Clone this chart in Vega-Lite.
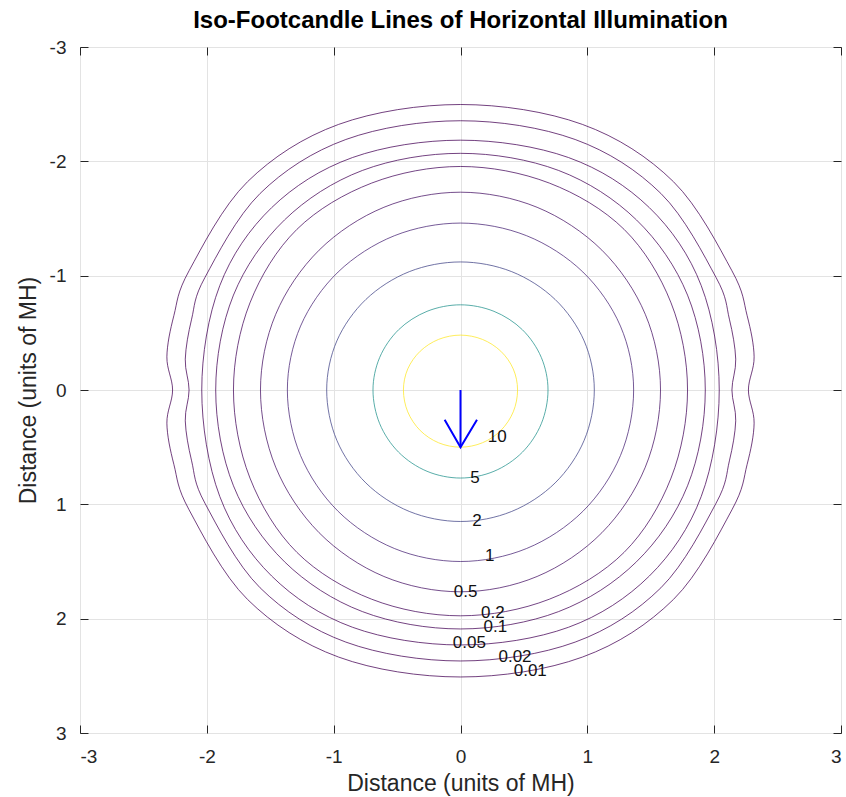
{
  "$schema": "https://vega.github.io/schema/vega-lite/v6.json",
  "width": 761,
  "height": 686,
  "autosize": "none",
  "padding": {"left": 80, "top": 47, "right": 5, "bottom": 64},
  "title": {
    "text": "Iso-Footcandle Lines of Horizontal Illumination",
    "font": "Liberation Sans",
    "fontSize": 24,
    "fontWeight": "bold",
    "color": "#000000",
    "anchor": "middle",
    "baseline": "bottom",
    "offset": -19
  },
  "config": {
    "view": {"stroke": "#262626", "strokeWidth": 1},
    "axis": {
      "labelFont": "Liberation Sans",
      "titleFont": "Liberation Sans",
      "labelFontSize": 19,
      "titleFontSize": 23,
      "titleFontWeight": "normal",
      "labelColor": "#262626",
      "titleColor": "#262626",
      "tickColor": "#262626",
      "domain": false,
      "gridColor": "#e3e3e3",
      "tickSize": -8,
      "labelExpr": "'' + datum.value"
    }
  },
  "datasets": {
    "contours": [
      {"level": "10", "i": 0, "x": 0.45, "y": 0},
      {"level": "10", "i": 1, "x": 0.416, "y": 0.191},
      {"level": "10", "i": 2, "x": 0.318, "y": 0.354},
      {"level": "10", "i": 3, "x": 0.172, "y": 0.462},
      {"level": "10", "i": 4, "x": 0, "y": 0.5},
      {"level": "10", "i": 5, "x": -0.172, "y": 0.462},
      {"level": "10", "i": 6, "x": -0.318, "y": 0.354},
      {"level": "10", "i": 7, "x": -0.416, "y": 0.191},
      {"level": "10", "i": 8, "x": -0.45, "y": 0},
      {"level": "10", "i": 9, "x": -0.416, "y": -0.184},
      {"level": "10", "i": 10, "x": -0.318, "y": -0.339},
      {"level": "10", "i": 11, "x": -0.172, "y": -0.443},
      {"level": "10", "i": 12, "x": 0, "y": -0.48},
      {"level": "10", "i": 13, "x": 0.172, "y": -0.443},
      {"level": "10", "i": 14, "x": 0.318, "y": -0.339},
      {"level": "10", "i": 15, "x": 0.416, "y": -0.184},

      {"level": "5", "i": 0, "x": 0.69, "y": 0},
      {"level": "5", "i": 1, "x": 0.637, "y": 0.295},
      {"level": "5", "i": 2, "x": 0.488, "y": 0.544},
      {"level": "5", "i": 3, "x": 0.264, "y": 0.711},
      {"level": "5", "i": 4, "x": 0, "y": 0.77},
      {"level": "5", "i": 5, "x": -0.264, "y": 0.711},
      {"level": "5", "i": 6, "x": -0.488, "y": 0.544},
      {"level": "5", "i": 7, "x": -0.637, "y": 0.295},
      {"level": "5", "i": 8, "x": -0.69, "y": 0},
      {"level": "5", "i": 9, "x": -0.637, "y": -0.285},
      {"level": "5", "i": 10, "x": -0.488, "y": -0.527},
      {"level": "5", "i": 11, "x": -0.264, "y": -0.688},
      {"level": "5", "i": 12, "x": 0, "y": -0.745},
      {"level": "5", "i": 13, "x": 0.264, "y": -0.688},
      {"level": "5", "i": 14, "x": 0.488, "y": -0.527},
      {"level": "5", "i": 15, "x": 0.637, "y": -0.285},

      {"level": "2", "i": 0, "x": 1.055, "y": 0},
      {"level": "2", "i": 1, "x": 0.975, "y": 0.44},
      {"level": "2", "i": 2, "x": 0.746, "y": 0.813},
      {"level": "2", "i": 3, "x": 0.404, "y": 1.062},
      {"level": "2", "i": 4, "x": 0, "y": 1.15},
      {"level": "2", "i": 5, "x": -0.404, "y": 1.062},
      {"level": "2", "i": 6, "x": -0.746, "y": 0.813},
      {"level": "2", "i": 7, "x": -0.975, "y": 0.44},
      {"level": "2", "i": 8, "x": -1.055, "y": 0},
      {"level": "2", "i": 9, "x": -0.975, "y": -0.429},
      {"level": "2", "i": 10, "x": -0.746, "y": -0.792},
      {"level": "2", "i": 11, "x": -0.404, "y": -1.035},
      {"level": "2", "i": 12, "x": 0, "y": -1.12},
      {"level": "2", "i": 13, "x": 0.404, "y": -1.035},
      {"level": "2", "i": 14, "x": 0.746, "y": -0.792},
      {"level": "2", "i": 15, "x": 0.975, "y": -0.429},

      {"level": "1", "i": 0, "x": 1.365, "y": 0},
      {"level": "1", "i": 1, "x": 1.261, "y": 0.574},
      {"level": "1", "i": 2, "x": 0.965, "y": 1.061},
      {"level": "1", "i": 3, "x": 0.522, "y": 1.386},
      {"level": "1", "i": 4, "x": 0, "y": 1.5},
      {"level": "1", "i": 5, "x": -0.522, "y": 1.386},
      {"level": "1", "i": 6, "x": -0.965, "y": 1.061},
      {"level": "1", "i": 7, "x": -1.261, "y": 0.574},
      {"level": "1", "i": 8, "x": -1.365, "y": 0},
      {"level": "1", "i": 9, "x": -1.261, "y": -0.559},
      {"level": "1", "i": 10, "x": -0.965, "y": -1.032},
      {"level": "1", "i": 11, "x": -0.522, "y": -1.349},
      {"level": "1", "i": 12, "x": 0, "y": -1.46},
      {"level": "1", "i": 13, "x": 0.522, "y": -1.349},
      {"level": "1", "i": 14, "x": 0.965, "y": -1.032},
      {"level": "1", "i": 15, "x": 1.261, "y": -0.559},

      {"level": "0.5", "i": 0, "x": 1.577, "y": 0},
      {"level": "0.5", "i": 1, "x": 1.457, "y": 0.675},
      {"level": "0.5", "i": 2, "x": 1.115, "y": 1.248},
      {"level": "0.5", "i": 3, "x": 0.604, "y": 1.631},
      {"level": "0.5", "i": 4, "x": 0, "y": 1.765},
      {"level": "0.5", "i": 5, "x": -0.604, "y": 1.631},
      {"level": "0.5", "i": 6, "x": -1.115, "y": 1.248},
      {"level": "0.5", "i": 7, "x": -1.457, "y": 0.675},
      {"level": "0.5", "i": 8, "x": -1.577, "y": 0},
      {"level": "0.5", "i": 9, "x": -1.457, "y": -0.662},
      {"level": "0.5", "i": 10, "x": -1.115, "y": -1.223},
      {"level": "0.5", "i": 11, "x": -0.604, "y": -1.598},
      {"level": "0.5", "i": 12, "x": 0, "y": -1.73},
      {"level": "0.5", "i": 13, "x": 0.604, "y": -1.598},
      {"level": "0.5", "i": 14, "x": 1.115, "y": -1.223},
      {"level": "0.5", "i": 15, "x": 1.457, "y": -0.662},

      {"level": "0.2", "i": 0, "x": 1.79, "y": 0},
      {"level": "0.2", "i": 1, "x": 1.66, "y": 0.77},
      {"level": "0.2", "i": 2, "x": 1.29, "y": 1.42},
      {"level": "0.2", "i": 3, "x": 0.7, "y": 1.83},
      {"level": "0.2", "i": 4, "x": 0, "y": 1.975},
      {"level": "0.2", "i": 5, "x": -0.7, "y": 1.83},
      {"level": "0.2", "i": 6, "x": -1.29, "y": 1.42},
      {"level": "0.2", "i": 7, "x": -1.66, "y": 0.77},
      {"level": "0.2", "i": 8, "x": -1.79, "y": 0},
      {"level": "0.2", "i": 9, "x": -1.66, "y": -0.762},
      {"level": "0.2", "i": 10, "x": -1.29, "y": -1.405},
      {"level": "0.2", "i": 11, "x": -0.7, "y": -1.81},
      {"level": "0.2", "i": 12, "x": 0, "y": -1.955},
      {"level": "0.2", "i": 13, "x": 0.7, "y": -1.81},
      {"level": "0.2", "i": 14, "x": 1.29, "y": -1.405},
      {"level": "0.2", "i": 15, "x": 1.66, "y": -0.762},

      {"level": "0.1", "i": 0, "x": 1.93, "y": 0},
      {"level": "0.1", "i": 1, "x": 1.79, "y": 0.838},
      {"level": "0.1", "i": 2, "x": 1.387, "y": 1.503},
      {"level": "0.1", "i": 3, "x": 0.774, "y": 1.938},
      {"level": "0.1", "i": 4, "x": 0, "y": 2.09},
      {"level": "0.1", "i": 5, "x": -0.774, "y": 1.938},
      {"level": "0.1", "i": 6, "x": -1.387, "y": 1.503},
      {"level": "0.1", "i": 7, "x": -1.79, "y": 0.838},
      {"level": "0.1", "i": 8, "x": -1.93, "y": 0},
      {"level": "0.1", "i": 9, "x": -1.79, "y": -0.83},
      {"level": "0.1", "i": 10, "x": -1.387, "y": -1.488},
      {"level": "0.1", "i": 11, "x": -0.774, "y": -1.92},
      {"level": "0.1", "i": 12, "x": 0, "y": -2.07},
      {"level": "0.1", "i": 13, "x": 0.774, "y": -1.92},
      {"level": "0.1", "i": 14, "x": 1.387, "y": -1.488},
      {"level": "0.1", "i": 15, "x": 1.79, "y": -0.83},

      {"level": "0.05", "i": 0, "x": 2.04, "y": 0},
      {"level": "0.05", "i": 1, "x": 1.898, "y": 0.931},
      {"level": "0.05", "i": 2, "x": 1.489, "y": 1.627},
      {"level": "0.05", "i": 3, "x": 0.852, "y": 2.075},
      {"level": "0.05", "i": 4, "x": 0, "y": 2.23},
      {"level": "0.05", "i": 5, "x": -0.852, "y": 2.075},
      {"level": "0.05", "i": 6, "x": -1.489, "y": 1.627},
      {"level": "0.05", "i": 7, "x": -1.898, "y": 0.931},
      {"level": "0.05", "i": 8, "x": -2.04, "y": 0},
      {"level": "0.05", "i": 9, "x": -1.898, "y": -0.913},
      {"level": "0.05", "i": 10, "x": -1.489, "y": -1.595},
      {"level": "0.05", "i": 11, "x": -0.852, "y": -2.033},
      {"level": "0.05", "i": 12, "x": 0, "y": -2.185},
      {"level": "0.05", "i": 13, "x": 0.852, "y": -2.033},
      {"level": "0.05", "i": 14, "x": 1.489, "y": -1.595},
      {"level": "0.05", "i": 15, "x": 1.898, "y": -0.913},

      {"level": "0.02", "i": 0, "x": 2.14, "y": 0},
      {"level": "0.02", "i": 0.3, "x": 2.17, "y": 0.27},
      {"level": "0.02", "i": 0.6, "x": 2.12, "y": 0.62},
      {"level": "0.02", "i": 1, "x": 2.015, "y": 0.99},
      {"level": "0.02", "i": 2, "x": 1.58, "y": 1.73},
      {"level": "0.02", "i": 3, "x": 0.904, "y": 2.205},
      {"level": "0.02", "i": 4, "x": 0, "y": 2.37},
      {"level": "0.02", "i": 5, "x": -0.904, "y": 2.205},
      {"level": "0.02", "i": 6, "x": -1.58, "y": 1.73},
      {"level": "0.02", "i": 7, "x": -2.015, "y": 0.99},
      {"level": "0.02", "i": 7.4, "x": -2.12, "y": 0.62},
      {"level": "0.02", "i": 7.7, "x": -2.17, "y": 0.27},
      {"level": "0.02", "i": 8, "x": -2.14, "y": 0},
      {"level": "0.02", "i": 8.3, "x": -2.17, "y": -0.27},
      {"level": "0.02", "i": 8.6, "x": -2.12, "y": -0.62},
      {"level": "0.02", "i": 9, "x": -2.015, "y": -0.984},
      {"level": "0.02", "i": 10, "x": -1.58, "y": -1.719},
      {"level": "0.02", "i": 11, "x": -0.904, "y": -2.191},
      {"level": "0.02", "i": 12, "x": 0, "y": -2.355},
      {"level": "0.02", "i": 13, "x": 0.904, "y": -2.191},
      {"level": "0.02", "i": 14, "x": 1.58, "y": -1.719},
      {"level": "0.02", "i": 15, "x": 2.015, "y": -0.984},
      {"level": "0.02", "i": 15.4, "x": 2.12, "y": -0.62},
      {"level": "0.02", "i": 15.7, "x": 2.17, "y": -0.27},

      {"level": "0.01", "i": 0, "x": 2.27, "y": 0},
      {"level": "0.01", "i": 0.3, "x": 2.315, "y": 0.29},
      {"level": "0.01", "i": 0.6, "x": 2.26, "y": 0.65},
      {"level": "0.01", "i": 1, "x": 2.14, "y": 1.048},
      {"level": "0.01", "i": 2, "x": 1.679, "y": 1.832},
      {"level": "0.01", "i": 3, "x": 0.961, "y": 2.336},
      {"level": "0.01", "i": 4, "x": 0, "y": 2.51},
      {"level": "0.01", "i": 5, "x": -0.961, "y": 2.336},
      {"level": "0.01", "i": 6, "x": -1.679, "y": 1.832},
      {"level": "0.01", "i": 7, "x": -2.14, "y": 1.048},
      {"level": "0.01", "i": 7.4, "x": -2.26, "y": 0.65},
      {"level": "0.01", "i": 7.7, "x": -2.315, "y": 0.29},
      {"level": "0.01", "i": 8, "x": -2.27, "y": 0},
      {"level": "0.01", "i": 8.3, "x": -2.315, "y": -0.29},
      {"level": "0.01", "i": 8.6, "x": -2.26, "y": -0.65},
      {"level": "0.01", "i": 9, "x": -2.14, "y": -1.043},
      {"level": "0.01", "i": 10, "x": -1.679, "y": -1.822},
      {"level": "0.01", "i": 11, "x": -0.961, "y": -2.323},
      {"level": "0.01", "i": 12, "x": 0, "y": -2.497},
      {"level": "0.01", "i": 13, "x": 0.961, "y": -2.323},
      {"level": "0.01", "i": 14, "x": 1.679, "y": -1.822},
      {"level": "0.01", "i": 15, "x": 2.14, "y": -1.043},
      {"level": "0.01", "i": 15.4, "x": 2.26, "y": -0.65},
      {"level": "0.01", "i": 15.7, "x": 2.315, "y": -0.29}
    ],
    "labels": [
      {"text": "10", "x": 0.29, "y": 0.41},
      {"text": "5", "x": 0.115, "y": 0.77},
      {"text": "2", "x": 0.13, "y": 1.145},
      {"text": "1", "x": 0.23, "y": 1.45},
      {"text": "0.5", "x": 0.04, "y": 1.765},
      {"text": "0.2", "x": 0.255, "y": 1.95},
      {"text": "0.1", "x": 0.275, "y": 2.075},
      {"text": "0.05", "x": 0.07, "y": 2.21},
      {"text": "0.02", "x": 0.43, "y": 2.335},
      {"text": "0.01", "x": 0.55, "y": 2.455}
    ],
    "arrow": [
      {"p": "shaft", "k": 0, "x": 0, "y": 0},
      {"p": "shaft", "k": 1, "x": 0, "y": 0.5},
      {"p": "head", "k": 0, "x": -0.125, "y": 0.26},
      {"p": "head", "k": 1, "x": 0, "y": 0.5},
      {"p": "head", "k": 2, "x": 0.13, "y": 0.26}
    ]
  },
  "layer": [
    {
      "data": {"name": "contours"},
      "mark": {"type": "line", "interpolate": "cardinal-closed", "strokeWidth": 1, "opacity": 0.75},
      "encoding": {
        "x": {
          "field": "x", "type": "quantitative",
          "scale": {"domain": [-3, 3], "nice": false, "zero": false},
          "axis": {"orient": "bottom", "values": [-3, -2, -1, 0, 1, 2, 3], "grid": true, "title": "Distance (units of MH)", "labelPadding": 22, "titlePadding": 6}
        },
        "y": {
          "field": "y", "type": "quantitative",
          "scale": {"domain": [-3, 3], "nice": false, "zero": false, "reverse": true},
          "axis": {"orient": "left", "values": [-3, -2, -1, 0, 1, 2, 3], "grid": true, "title": "Distance (units of MH)", "labelPadding": 22, "titlePadding": 9}
        },
        "color": {
          "field": "level", "type": "nominal",
          "scale": {
            "domain": ["0.01", "0.02", "0.05", "0.1", "0.2", "0.5", "1", "2", "5", "10"],
            "range": ["#440154", "#440154", "#440256", "#450457", "#46085c", "#471365", "#482475", "#414487", "#21918c", "#fde725"]
          },
          "legend": null
        },
        "detail": {"field": "level"},
        "order": {"field": "i", "type": "quantitative"}
      }
    },
    {
      "data": {"name": "labels"},
      "mark": {"type": "text", "font": "Liberation Sans", "fontSize": 17, "color": "#111111", "align": "center", "baseline": "middle"},
      "encoding": {
        "x": {"field": "x", "type": "quantitative", "scale": {"domain": [-3, 3], "nice": false, "zero": false}, "axis": null},
        "y": {"field": "y", "type": "quantitative", "scale": {"domain": [-3, 3], "nice": false, "zero": false, "reverse": true}, "axis": null},
        "text": {"field": "text"}
      }
    },
    {
      "data": {"name": "arrow"},
      "mark": {"type": "line", "color": "#0000ff", "strokeWidth": 2},
      "encoding": {
        "x": {
          "field": "x", "type": "quantitative",
          "scale": {"domain": [-3, 3], "nice": false, "zero": false},
          "axis": {"orient": "top", "values": [-3, -2, -1, 0, 1, 2, 3], "grid": false, "labels": false, "title": null}
        },
        "y": {
          "field": "y", "type": "quantitative",
          "scale": {"domain": [-3, 3], "nice": false, "zero": false, "reverse": true},
          "axis": {"orient": "right", "values": [-3, -2, -1, 0, 1, 2, 3], "grid": false, "labels": false, "title": null}
        },
        "detail": {"field": "p"},
        "order": {"field": "k", "type": "quantitative"}
      }
    }
  ],
  "resolve": {"axis": {"x": "independent", "y": "independent"}}
}
